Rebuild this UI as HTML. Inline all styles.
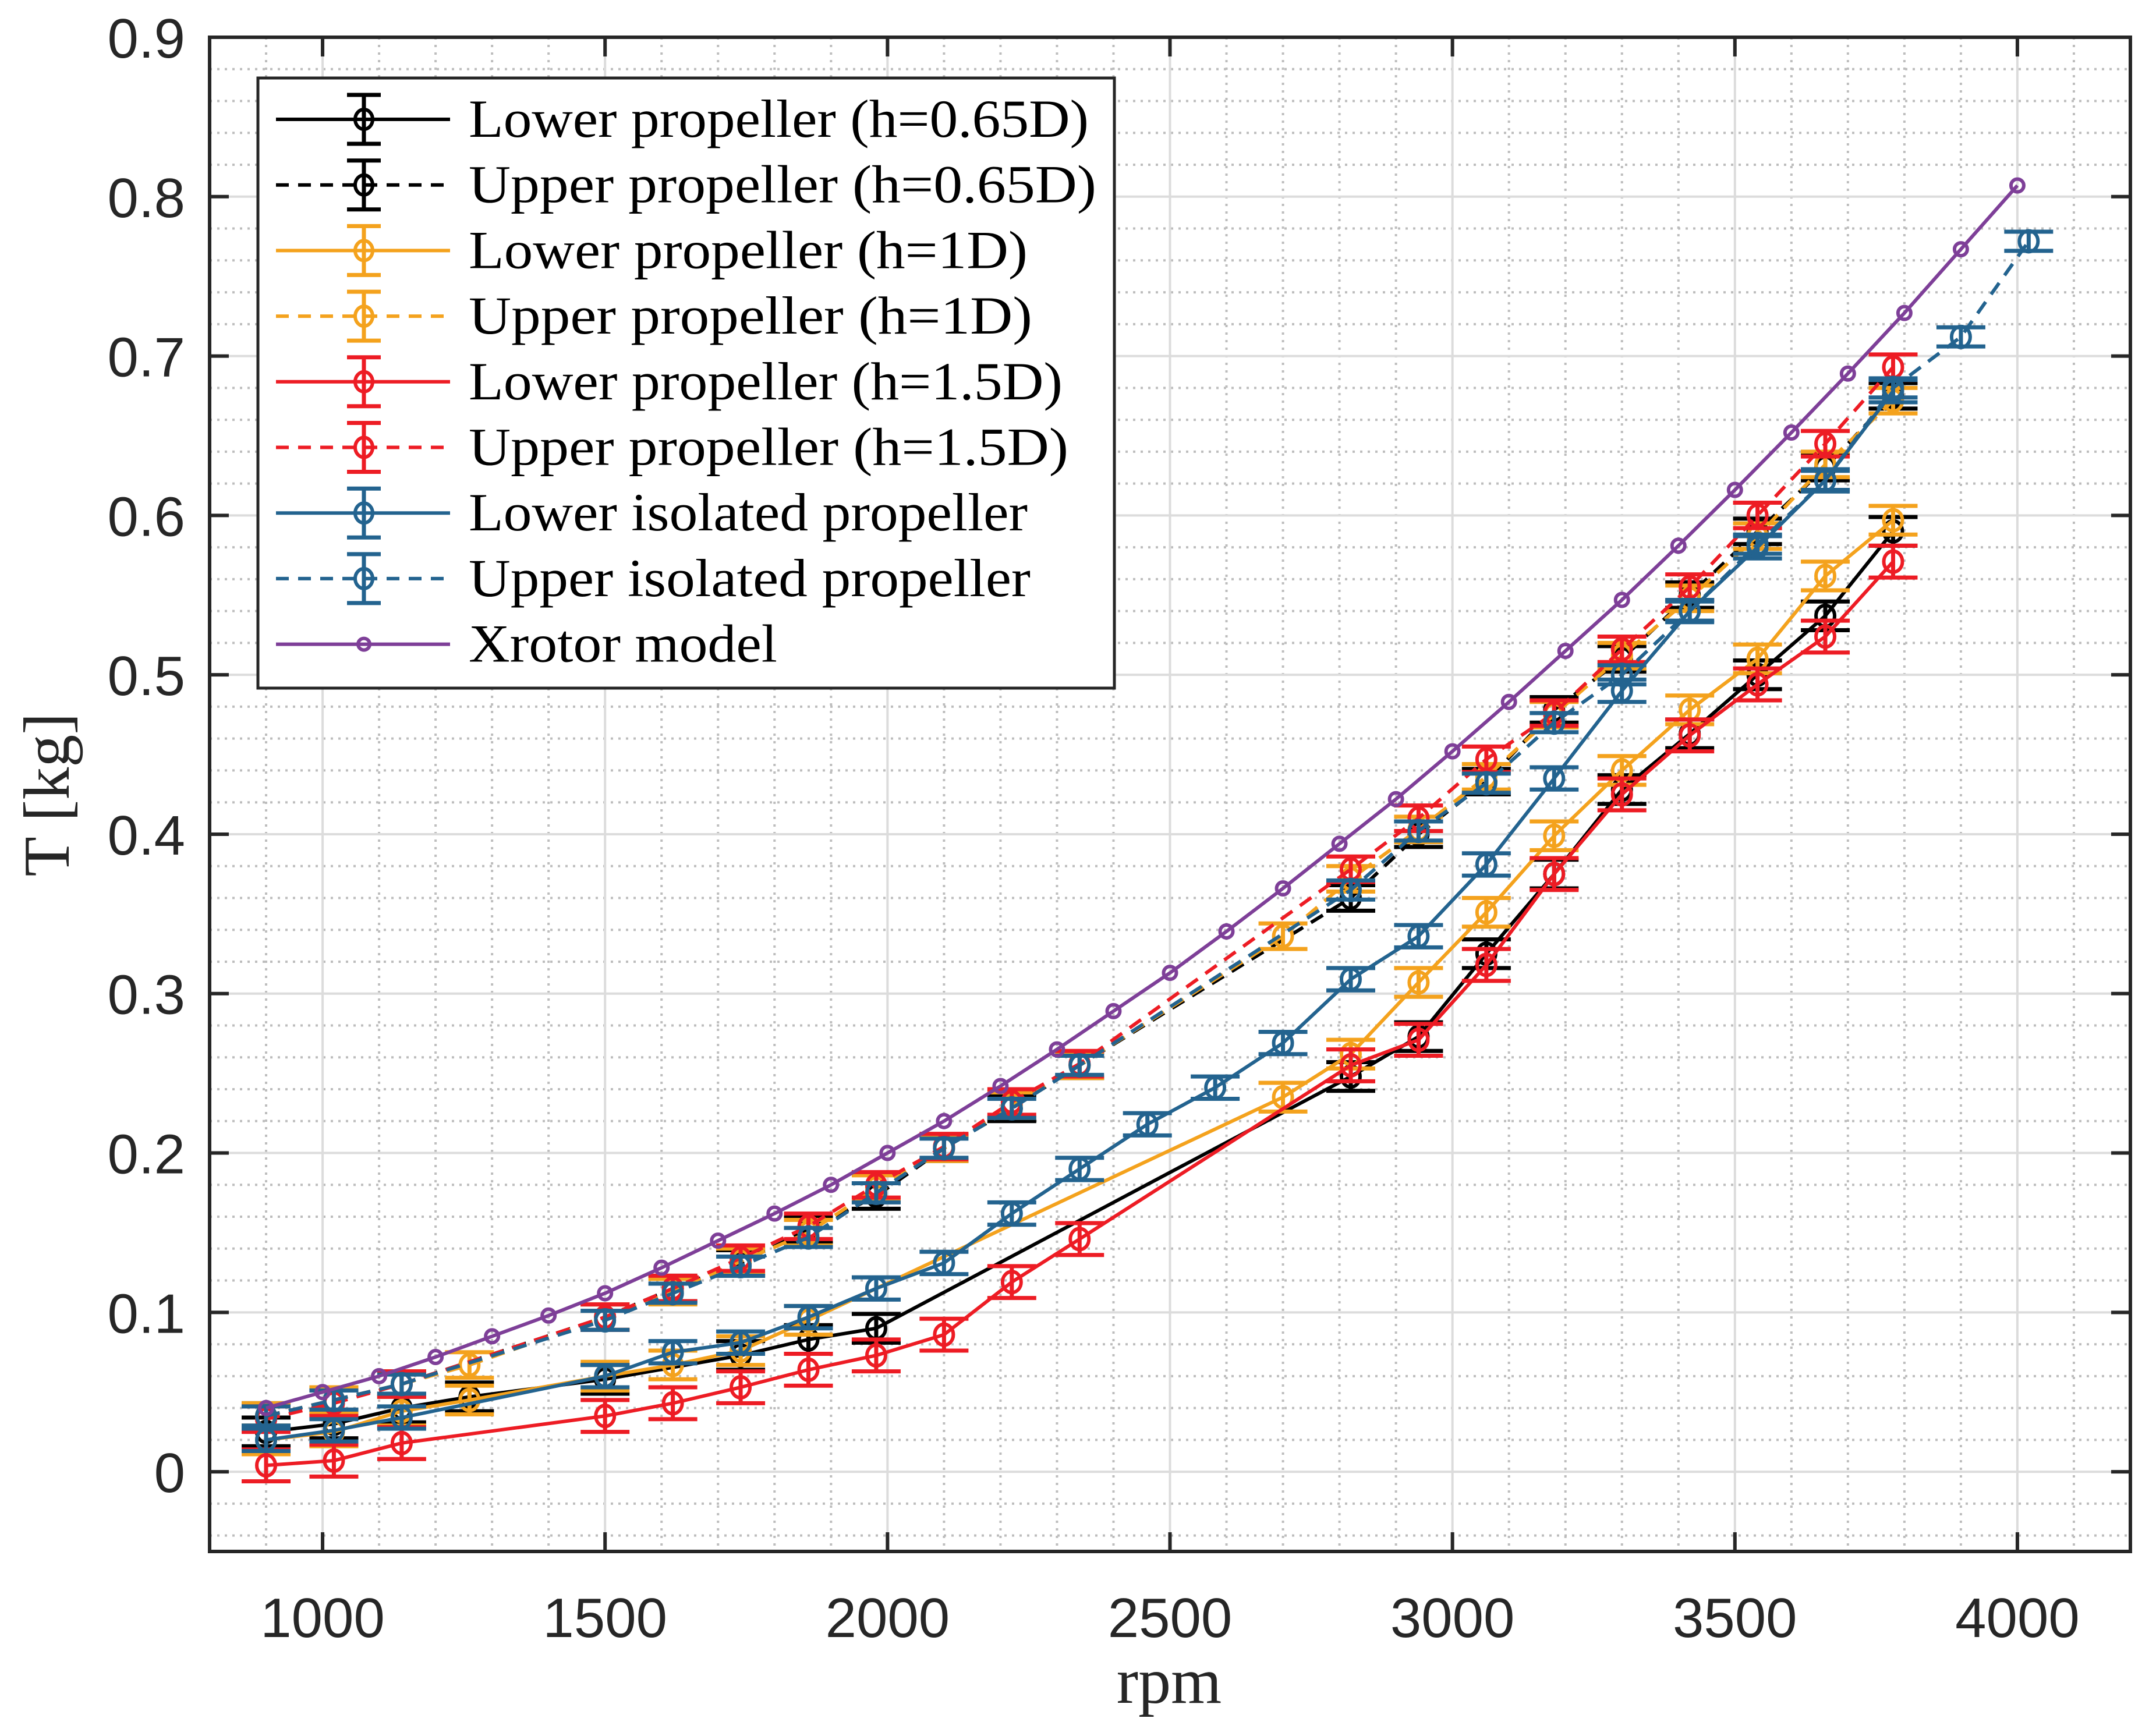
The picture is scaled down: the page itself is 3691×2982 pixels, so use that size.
<!DOCTYPE html>
<html><head><meta charset="utf-8"><style>
html,body{margin:0;padding:0;background:#fff;}
svg{display:block;}
</style></head><body>
<svg id="chart" width="3691" height="2982" viewBox="0 0 3691 2982" xmlns="http://www.w3.org/2000/svg">
<rect width="3691" height="2982" fill="#fff"/>
<g id="grid"></g>
<g id="series"></g>
<g id="axes"></g>
<g id="legend"></g>
</svg>
<script>
// ---- data ----
const xTicks = [1000,1500,2000,2500,3000,3500,4000];
const yTicks = [0,0.1,0.2,0.3,0.4,0.5,0.6,0.7,0.8,0.9];
const yTickLabels = ["0","0.1","0.2","0.3","0.4","0.5","0.6","0.7","0.8","0.9"];

const lowA_x = [900,1020,1140,1260,1500,1740,1860,1980,2820,2940,3060,3180,3300,3420,3540,3660,3780];
const lowA_y = [0.025,0.030,0.040,0.047,0.058,0.073,0.083,0.090,0.248,0.273,0.325,0.375,0.428,0.463,0.500,0.537,0.590];
const upA_x = [900,1020,1140,1500,1620,1740,1860,1980,2100,2220,2340,2820,2940,3060,3180,3300,3420,3540,3660,3780];
const upA_y = [0.035,0.045,0.055,0.097,0.115,0.131,0.152,0.173,0.203,0.228,0.255,0.360,0.400,0.433,0.478,0.510,0.550,0.590,0.630,0.675];
const lowB_x = [900,1020,1140,1260,1500,1620,1740,1860,2700,2820,2940,3060,3180,3300,3420,3540,3660,3780];
const lowB_y = [0.020,0.025,0.038,0.045,0.060,0.067,0.076,0.095,0.235,0.262,0.307,0.351,0.399,0.440,0.478,0.510,0.562,0.597];
const upB_x = [900,1020,1140,1260,1500,1620,1740,1860,1980,2100,2220,2340,2700,2820,2940,3060,3180,3300,3420,3540,3660,3780];
const upB_y = [0.035,0.045,0.055,0.067,0.097,0.113,0.132,0.150,0.178,0.203,0.230,0.255,0.336,0.372,0.403,0.436,0.475,0.512,0.548,0.587,0.632,0.672];
const lowC_x = [900,1020,1140,1500,1620,1740,1860,1980,2100,2220,2340,2820,2940,3060,3180,3300,3420,3540,3660,3780];
const lowC_y = [0.004,0.007,0.018,0.035,0.043,0.053,0.064,0.073,0.086,0.119,0.146,0.255,0.271,0.318,0.375,0.425,0.462,0.494,0.524,0.571];
const upC_x = [900,1020,1140,1500,1620,1740,1860,1980,2100,2220,2340,2820,2940,3060,3180,3300,3420,3540,3660,3780];
const upC_y = [0.033,0.043,0.055,0.097,0.115,0.134,0.154,0.180,0.204,0.232,0.256,0.378,0.410,0.447,0.476,0.516,0.555,0.600,0.645,0.693];
const lowI_x = [900,1020,1140,1500,1620,1740,1860,1980,2100,2220,2340,2460,2580,2700,2820,2940,3060,3180,3300,3420,3540,3660,3780];
const lowI_y = [0.020,0.026,0.034,0.060,0.075,0.081,0.097,0.115,0.131,0.162,0.190,0.218,0.241,0.269,0.309,0.336,0.381,0.435,0.490,0.540,0.580,0.622,0.678];
const upI_x = [900,1020,1140,1500,1620,1740,1860,1980,2100,2220,2340,2820,2940,3060,3180,3300,3420,3540,3660,3780,3900,4020];
const upI_y = [0.035,0.045,0.055,0.095,0.112,0.129,0.147,0.175,0.203,0.228,0.255,0.365,0.402,0.432,0.470,0.500,0.540,0.582,0.622,0.680,0.712,0.772];
const xr_x = [900,1000,1100,1200,1300,1400,1500,1600,1700,1800,1900,2000,2100,2200,2300,2400,2500,2600,2700,2800,2900,3000,3100,3200,3300,3400,3500,3600,3700,3800,3900,4000];
const xr_y = [0.040,0.050,0.060,0.072,0.085,0.098,0.112,0.128,0.145,0.162,0.180,0.200,0.220,0.242,0.265,0.289,0.313,0.339,0.366,0.394,0.422,0.452,0.483,0.515,0.547,0.581,0.616,0.652,0.689,0.727,0.767,0.807];
const errs = [0.009,0.008,0.009,0.008,0.010,0.008,0.007,0.006,0];

const labels = ["Lower propeller (h=0.65D)","Upper propeller (h=0.65D)","Lower propeller (h=1D)","Upper propeller (h=1D)","Lower propeller (h=1.5D)","Upper propeller (h=1.5D)","Lower isolated propeller","Upper isolated propeller","Xrotor model"];

// ---- geometry ----
const X0=360,X1=3659,Y0=64,Y1=2665,XMIN=800,XMAX=4200,YMIN=-0.05,YMAX=0.9;
const sx=v=>X0+(v-XMIN)/(XMAX-XMIN)*(X1-X0);
const sy=v=>Y1-(v-YMIN)/(YMAX-YMIN)*(Y1-Y0);
const NS="http://www.w3.org/2000/svg";
function mk(tag,attrs,parent){const e=document.createElementNS(NS,tag);for(const k in attrs)e.setAttribute(k,attrs[k]);parent.appendChild(e);return e;}

const grid=document.getElementById('grid');
for(let r=900;r<4200;r+=100){ if(r%500===0) continue;
  const l=mk('line',{x1:sx(r),x2:sx(r),y1:Y0,y2:Y1,stroke:'#bdbdbd','stroke-width':4,'stroke-dasharray':'4 9'},grid);
  
  }
for(let i=-2;i<=45;i++){ const v=i*0.02; if(i%5===0) continue;
  const l=mk('line',{x1:X0,x2:X1,y1:sy(v),y2:sy(v),stroke:'#bdbdbd','stroke-width':4,'stroke-dasharray':'4 9'},grid);
  
  }
for(const t of xTicks){const l=mk('line',{x1:sx(t),x2:sx(t),y1:Y0,y2:Y1,stroke:'#dcdcdc','stroke-width':4},grid);
  
  }
for(const t of yTicks){const l=mk('line',{x1:X0,x2:X1,y1:sy(t),y2:sy(t),stroke:'#dcdcdc','stroke-width':4},grid);
  
  }

const colors=['#000000','#000000','#F4A21D','#F4A21D','#ED1C24','#ED1C24','#23638F','#23638F','#7E3F98'];
const dashed=[false,true,false,true,false,true,false,true,false];
const xs=[lowA_x,upA_x,lowB_x,upB_x,lowC_x,upC_x,lowI_x,upI_x,xr_x];
const ys=[lowA_y,upA_y,lowB_y,upB_y,lowC_y,upC_y,lowI_y,upI_y,xr_y];
const names=['lower-065d','upper-065d','lower-1d','upper-1d','lower-15d','upper-15d','lower-isolated','upper-isolated','xrotor-model'];
const ser=document.getElementById('series');
for(let s=0;s<9;s++){
  const g=mk('g',{},ser);
  
  
  const pts=xs[s].map((x,i)=>sx(x)+','+sy(ys[s][i])).join(' ');
  const pl=mk('polyline',{points:pts,fill:'none',stroke:colors[s],'stroke-width':6,'stroke-dasharray':dashed[s]?'24 16':'none','stroke-linejoin':'round'},g);
  
  
  for(let i=0;i<xs[s].length;i++){
    const cx=sx(xs[s][i]),cy=sy(ys[s][i]);
    if(errs[s]>0){
      const e=errs[s],yt=sy(ys[s][i]+e),yb=sy(ys[s][i]-e);
      const eb=mk('path',{d:`M${cx},${yt}V${yb}M${cx-42},${yt}H${cx+42}M${cx-42},${yb}H${cx+42}`,stroke:colors[s],'stroke-width':7,fill:'none'},g);
      
      
    }
    const c=mk('ellipse',{cx:cx,cy:cy,rx:s===8?11:16,ry:s===8?11:18,fill:'none',stroke:colors[s],'stroke-width':6},g);
    
    
  }
}

const ax=document.getElementById('axes');
const fr=mk('rect',{x:X0,y:Y0,width:X1-X0,height:Y1-Y0,fill:'none',stroke:'#262626','stroke-width':6},ax);


for(const t of xTicks){
  const tk=mk('path',{d:`M${sx(t)},${Y1}V${Y1-33}M${sx(t)},${Y0}V${Y0+33}`,stroke:'#262626','stroke-width':6},ax);
  
  
  const tx=mk('text',{x:sx(t),y:2812,'text-anchor':'middle','font-family':'Liberation Sans, sans-serif','font-size':96,fill:'#262626'},ax);
  tx.textContent=t;
  
  
}
yTicks.forEach((t,i)=>{
  const tk=mk('path',{d:`M${X0},${sy(t)}H${X0+33}M${X1},${sy(t)}H${X1-33}`,stroke:'#262626','stroke-width':6},ax);
  
  
  const tx=mk('text',{x:318,y:sy(t)+35,'text-anchor':'end','font-family':'Liberation Sans, sans-serif','font-size':96,fill:'#262626'},ax);
  tx.textContent=yTickLabels[i];
  
  
});
const xt=mk('text',{x:2008,y:2925,'text-anchor':'middle','font-family':'Liberation Serif, serif','font-size':112,fill:'#262626'},ax);
xt.textContent='rpm';


const yt=mk('text',{x:0,y:0,'text-anchor':'middle','font-family':'Liberation Serif, serif','font-size':112,fill:'#262626',transform:'translate(118,1365) rotate(-90)'},ax);
yt.textContent='T [kg]';



// legend
const lg=document.getElementById('legend');
const lb=mk('rect',{x:443,y:134,width:1471,height:1048,fill:'#fff',stroke:'#262626','stroke-width':5},lg);


const tlen=[1065,1078,960,968,1020,1030,960,965,530];
labels.forEach((lab,s)=>{
  const y=205+s*112.7;
  const g=mk('g',{},lg);
  
  
  mk('line',{x1:474,x2:773,y1:y,y2:y,stroke:colors[s],'stroke-width':6,'stroke-dasharray':dashed[s]?'22 16':'none'},g);
  if(s<8) mk('path',{d:`M625,${y-42}V${y+42}M596,${y-42}H654M596,${y+42}H654`,stroke:colors[s],'stroke-width':7,fill:'none'},g);
  mk('ellipse',{cx:625,cy:y,rx:s===8?10:15,ry:s===8?10:17,fill:'none',stroke:colors[s],'stroke-width':6},g);
  const t=mk('text',{x:805,y:y+30,'font-family':'Liberation Serif, serif','font-size':92,fill:'#000',textLength:tlen[s],lengthAdjust:'spacingAndGlyphs'},g);
  t.textContent=lab;
});
</script>
</body></html>
